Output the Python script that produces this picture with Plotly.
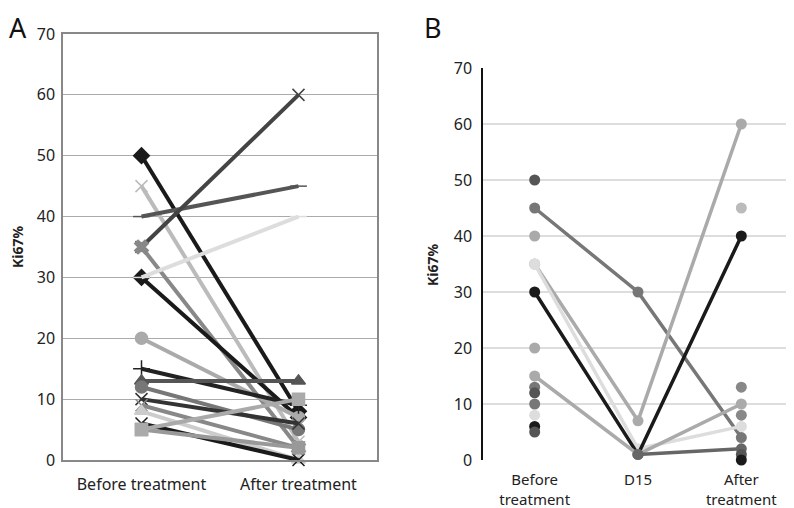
import plotly.graph_objects as go

# ---------------- Panel A data ----------------
cats_a = ["Before treatment", "After treatment"]
a_before = [50, 45, 40, 35, 35, 30, 30, 20, 15, 13, 12, 10, 9, 8, 6, 5, 5]
a_after = [8, 3, 45, 60, 2, 7, 40, 7, 9, 13, 5, 6, 2, 0, 0, 2, 10]
a_colors = ["#1a1a1a", "#bbbbbb", "#555555", "#444444", "#888888", "#1a1a1a",
            "#dddddd", "#aaaaaa", "#222222", "#555555", "#777777", "#333333",
            "#888888", "#cccccc", "#1a1a1a", "#999999", "#aaaaaa"]
a_symbols = ["diamond", "x-thin", "line-ew", "x-thin", "x", "diamond",
             "line-ew", "circle", "cross-thin", "triangle-up", "circle", "x-thin",
             "x-thin", "triangle-up", "x-thin", "square", "square"]

# ---------------- Panel B data ----------------
cats_b = ["Before<br>treatment", "D15", "After<br>treatment"]
b_series = [[45, 30, 4], [35, 7, 60], [35, 2, 6], [30, 1, 40], [15, 1, 10], [None, 1, 2]]
b_colors = ["#777777", "#aaaaaa", "#dddddd", "#1a1a1a", "#aaaaaa", "#666666"]
b_before_only = [50, 40, 20, 13, 12, 10, 8, 6, 5]
b_before_only_colors = ["#555555", "#aaaaaa", "#aaaaaa", "#777777", "#555555",
                        "#777777", "#dddddd", "#1a1a1a", "#555555"]
b_after_only = [45, 13, 8, 1, 0]
b_after_only_colors = ["#bbbbbb", "#888888", "#888888", "#555555", "#1a1a1a"]

y_ticks = [0, 10, 20, 30, 40, 50, 60, 70]

# page body has an 8px default margin -> figure drawn at (8, 8)
W, H = 786, 500
OFF = 8


def px(x):
    return (x - OFF) / W


def py(y):
    return 1 - (y - OFF) / H


fig = go.Figure()

for b, a, c, s in zip(a_before, a_after, a_colors, a_symbols):
    fig.add_trace(go.Scatter(
        x=cats_a, y=[b, a], mode="lines+markers",
        line=dict(color=c, width=4),
        marker=dict(color=c, symbol=s, size=12, line=dict(color=c, width=1.5)),
        xaxis="x", yaxis="y", showlegend=False, cliponaxis=False))

for vals, c in zip(b_series, b_colors):
    fig.add_trace(go.Scatter(
        x=cats_b, y=vals, mode="lines+markers",
        line=dict(color=c, width=3.5),
        marker=dict(color=c, size=11),
        xaxis="x2", yaxis="y2", showlegend=False, cliponaxis=False))

fig.add_trace(go.Scatter(
    x=[cats_b[0]] * len(b_before_only), y=b_before_only, mode="markers",
    marker=dict(color=b_before_only_colors, size=11),
    xaxis="x2", yaxis="y2", showlegend=False, cliponaxis=False))
fig.add_trace(go.Scatter(
    x=[cats_b[2]] * len(b_after_only), y=b_after_only, mode="markers",
    marker=dict(color=b_after_only_colors, size=11),
    xaxis="x2", yaxis="y2", showlegend=False, cliponaxis=False))

font = dict(family="Noto Sans, Liberation Sans, sans-serif", size=14, color="#222222")

fig.update_layout(
    width=W, height=H,
    margin=dict(l=0, r=0, t=0, b=0),
    paper_bgcolor="white", plot_bgcolor="white",
    font=font,
    xaxis=dict(domain=[px(63), px(377)], type="category", range=[-0.5, 1.5],
               showgrid=False, automargin=False,
               showline=True, linecolor="#888888", linewidth=1.5, mirror=True,
               ticks="", tickfont=dict(size=16), ticklabelstandoff=9, anchor="y"),
    yaxis=dict(domain=[py(460), py(34)], range=[0, 70], tickvals=y_ticks,
               showgrid=True, gridcolor="#aaaaaa", gridwidth=1, automargin=False,
               showline=True, linecolor="#888888", linewidth=1.5, mirror=True,
               zeroline=False, ticks="", tickfont=dict(size=16), ticklabelstandoff=3,
               anchor="x"),
    xaxis2=dict(domain=[px(483), min(1.0, px(793))], type="category", range=[-0.5, 2.5],
                showgrid=False, automargin=False,
                showline=False, ticks="", tickfont=dict(size=15), ticklabelstandoff=9,
                anchor="y2"),
    yaxis2=dict(domain=[py(460), py(68)], range=[0, 70], tickvals=y_ticks,
                showgrid=True, gridcolor="#dddddd", gridwidth=1.5, automargin=False,
                showline=True, linecolor="#111111", linewidth=1.5,
                zeroline=False, ticks="", tickfont=dict(size=16), ticklabelstandoff=6,
                anchor="x2"),
    annotations=[
        dict(text="A", x=0, y=1, xref="paper", yref="paper",
             xanchor="left", yanchor="top", showarrow=False, borderpad=0,
             font=dict(size=27, color="#111111")),
        dict(text="B", x=px(423), y=1, xref="paper", yref="paper",
             xanchor="left", yanchor="top", showarrow=False, borderpad=0,
             font=dict(size=27, color="#111111")),
        dict(text="<b>Ki67%</b>", x=px(17), y=py(247), xref="paper", yref="paper",
             xanchor="center", yanchor="middle", textangle=-90, showarrow=False,
             font=dict(size=14, color="#222222")),
        dict(text="<b>Ki67%</b>", x=px(432), y=py(265), xref="paper", yref="paper",
             xanchor="center", yanchor="middle", textangle=-90, showarrow=False,
             font=dict(size=14, color="#222222")),
    ],
    shapes=[
        dict(type="line", xref="x2 domain", yref="y2 domain", x0=1, x1=1, y0=0, y1=1,
             line=dict(color="#111111", width=1.5)),
    ],
)

fig.write_html("out.html")
